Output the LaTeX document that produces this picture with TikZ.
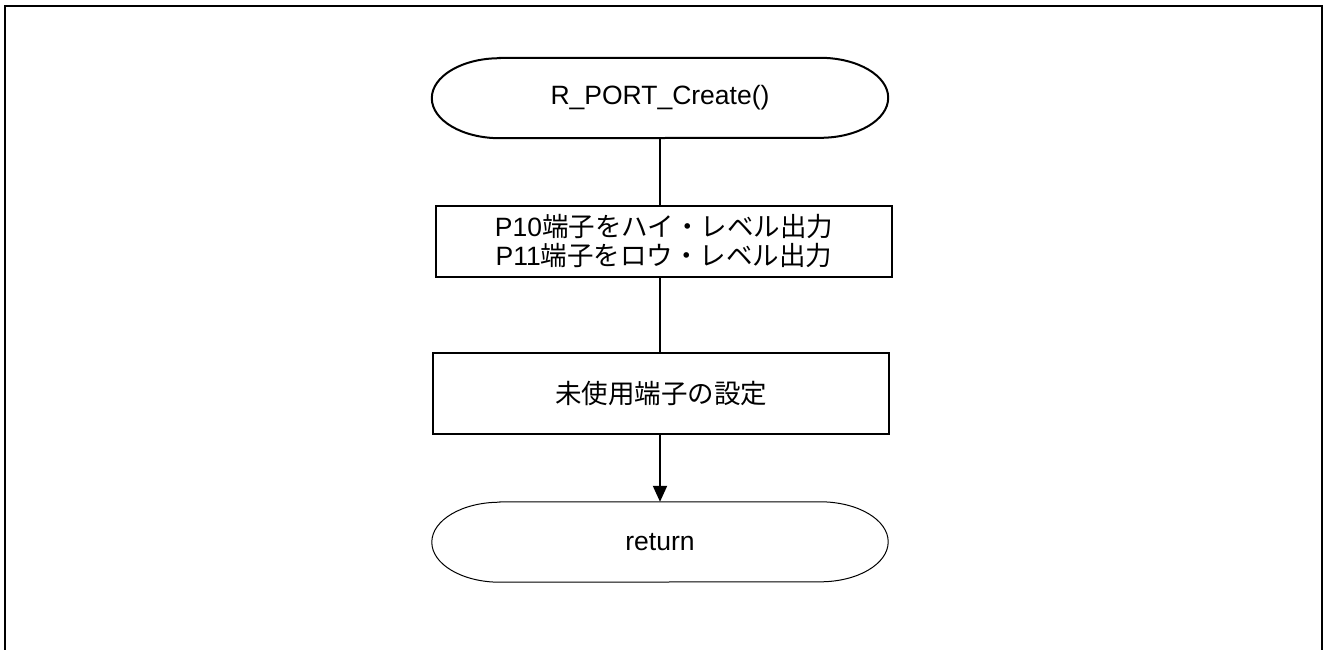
\documentclass[tikz,border=0pt]{standalone}
\usepackage{fontspec}
\setmainfont{Liberation Sans}
\newfontfamily\jp{Noto Sans CJK JP}
\usetikzlibrary{arrows.meta}
\begin{document}
\begin{tikzpicture}[x=1pt,y=-1pt,
  lbl/.style={font=\fontsize{26.5}{29}\selectfont},
  termnode/.style={minimum width=456pt,minimum height=80pt,inner sep=0pt,lbl},
  procbox/.style={draw,line width=2pt,minimum width=456pt,minimum height=80pt,inner sep=0pt,align=center,lbl},
  conn/.style={line width=2pt},
  arr/.style={conn,-{Triangle[length=16pt,width=14pt]}}
]
\useasboundingbox (0,0) rectangle (1323,649);
% outer frame (open at the bottom)
\draw[line width=2pt] (5,660) -- (5,6) -- (1322,6) -- (1322,660);

\node[termnode] (start) at (660,98) {R\_PORT\_Create()};
\draw[line width=2pt] ([xshift=68pt]start.north west) -- ([xshift=-68pt]start.north east)
  arc[start angle=90,end angle=-90,x radius=68pt,y radius=40pt]
  -- ([xshift=68pt]start.south west)
  arc[start angle=270,end angle=90,x radius=68pt,y radius=40pt] -- cycle;

\node[procbox,minimum height=71pt] (p1) at (664,241.5) {P10{\jp 端子をハイ・レベル出力}\\P11{\jp 端子をロウ・レベル出力}};
\node[procbox,minimum height=81pt] (p2) at (661,393.5) {\jp 未使用端子の設定};

\node[termnode] (ret) at (660,542) {return};
\draw[line width=1pt] ([xshift=68pt]ret.north west) -- ([xshift=-68pt]ret.north east)
  arc[start angle=90,end angle=-90,x radius=68pt,y radius=40pt]
  -- ([xshift=68pt]ret.south west)
  arc[start angle=270,end angle=90,x radius=68pt,y radius=40pt] -- cycle;

\draw[conn] (start.south) -- (start.south |- p1.north);
\draw[conn] (start.south |- p1.south) -- (start.south |- p2.north);
\draw[arr] (start.south |- p2.south) -- (ret.north);
\end{tikzpicture}
\end{document}
